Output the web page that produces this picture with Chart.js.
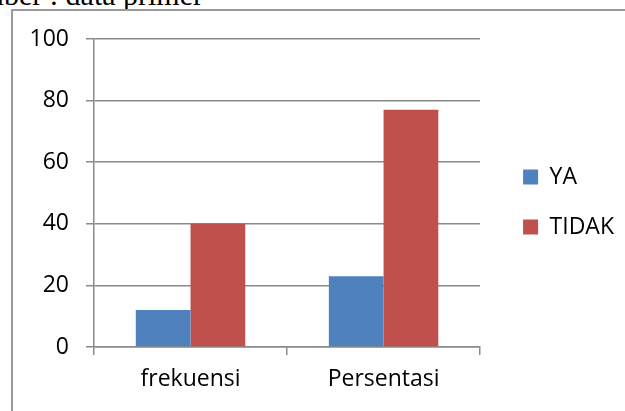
<!DOCTYPE html>
<html>
<head>
<meta charset="utf-8">
<script src="https://cdn.jsdelivr.net/npm/chart.js@4/dist/chart.umd.min.js"></script>
<style>
  html, body { margin: 0; padding: 0; background: #fff; }
  #wrap { position: relative; width: 625px; height: 411px; overflow: hidden; }
  #cap { position: absolute; right: 422px; top: -20px; white-space: nowrap;
         font-family: "Liberation Serif", "Times New Roman", serif; font-size: 30px; line-height: 1; color: #000; }
  #frame { position: absolute; left: 11px; top: 9px; width: 700px; height: 500px;
           border-left: 2px solid #9a9a9a; border-top: 2px solid #9a9a9a; pointer-events: none; }
  canvas { position: absolute; left: 0; top: 0; }
</style>
</head>
<body>
<div id="wrap">
  <div id="cap">Sumber : data primer</div>
  <div id="frame"></div>
  <canvas id="c" width="625" height="411"></canvas>
</div>
<script>
const categories = ['frekuensi', 'Persentasi'];
const seriesNames = ['YA', 'TIDAK'];
const yaValues = [12, 23];
const tidakValues = [40, 77];
const yTickValues = [0, 20, 40, 60, 80, 100];

const FONT = "'Open Sans', 'Liberation Sans', sans-serif";
const GRID = '#8a8a8a';

new Chart(document.getElementById('c'), {
  type: 'bar',
  data: {
    labels: categories,
    datasets: [
      { label: seriesNames[0], data: yaValues, backgroundColor: '#4F81BD', borderWidth: 0, xAxisID: 'x', yAxisID: 'y' },
      { label: seriesNames[1], data: tidakValues, backgroundColor: '#C0504D', borderWidth: 0, xAxisID: 'x', yAxisID: 'y' }
    ]
  },
  options: {
    responsive: false,
    animation: false,
    devicePixelRatio: 1,
    layout: { padding: { left: 0, right: 1, top: 0, bottom: 7 } },
    datasets: { bar: { categoryPercentage: 0.567, barPercentage: 1.0 } },
    plugins: {
      tooltip: { enabled: false },
      legend: {
        position: 'right',
        align: 'center',
        maxWidth: 140,
        labels: {
          boxWidth: 15, boxHeight: 15, padding: 27,
          color: '#000',
          font: { family: FONT, size: 23 }
        }
      }
    },
    scales: {
      x: {
        offset: true,
        grid: { display: true, offset: true, drawOnChartArea: false, drawTicks: true, tickLength: 8, color: GRID, lineWidth: 1.5 },
        border: { display: true, color: GRID, width: 1.5 },
        ticks: { color: '#000', font: { family: FONT, size: 23 }, padding: 11, maxRotation: 0 },
        afterFit: (s) => { s.height = 57; }
      },
      topPad: {
        type: 'linear', position: 'top', axis: 'x', display: true,
        grid: { display: false, drawTicks: false }, border: { display: false },
        ticks: { display: false },
        afterFit: (s) => { s.height = 39; }
      },
      rightPad: {
        type: 'linear', position: 'right', axis: 'y', display: true,
        grid: { display: false, drawTicks: false }, border: { display: false },
        ticks: { display: false },
        afterFit: (s) => { s.width = 16; }
      },
      y: {
        min: 0, max: 100,
        afterBuildTicks: (s) => { s.ticks = yTickValues.map(v => ({ value: v })); },
        grid: { color: GRID, lineWidth: 1.5, tickLength: 8, drawTicks: true },
        border: { display: true, color: GRID, width: 1.5 },
        ticks: { color: '#000', font: { family: FONT, size: 23 }, padding: 17 },
        afterFit: (s) => { s.width = 94; }
      }
    }
  }
});
</script>
</body>
</html>
